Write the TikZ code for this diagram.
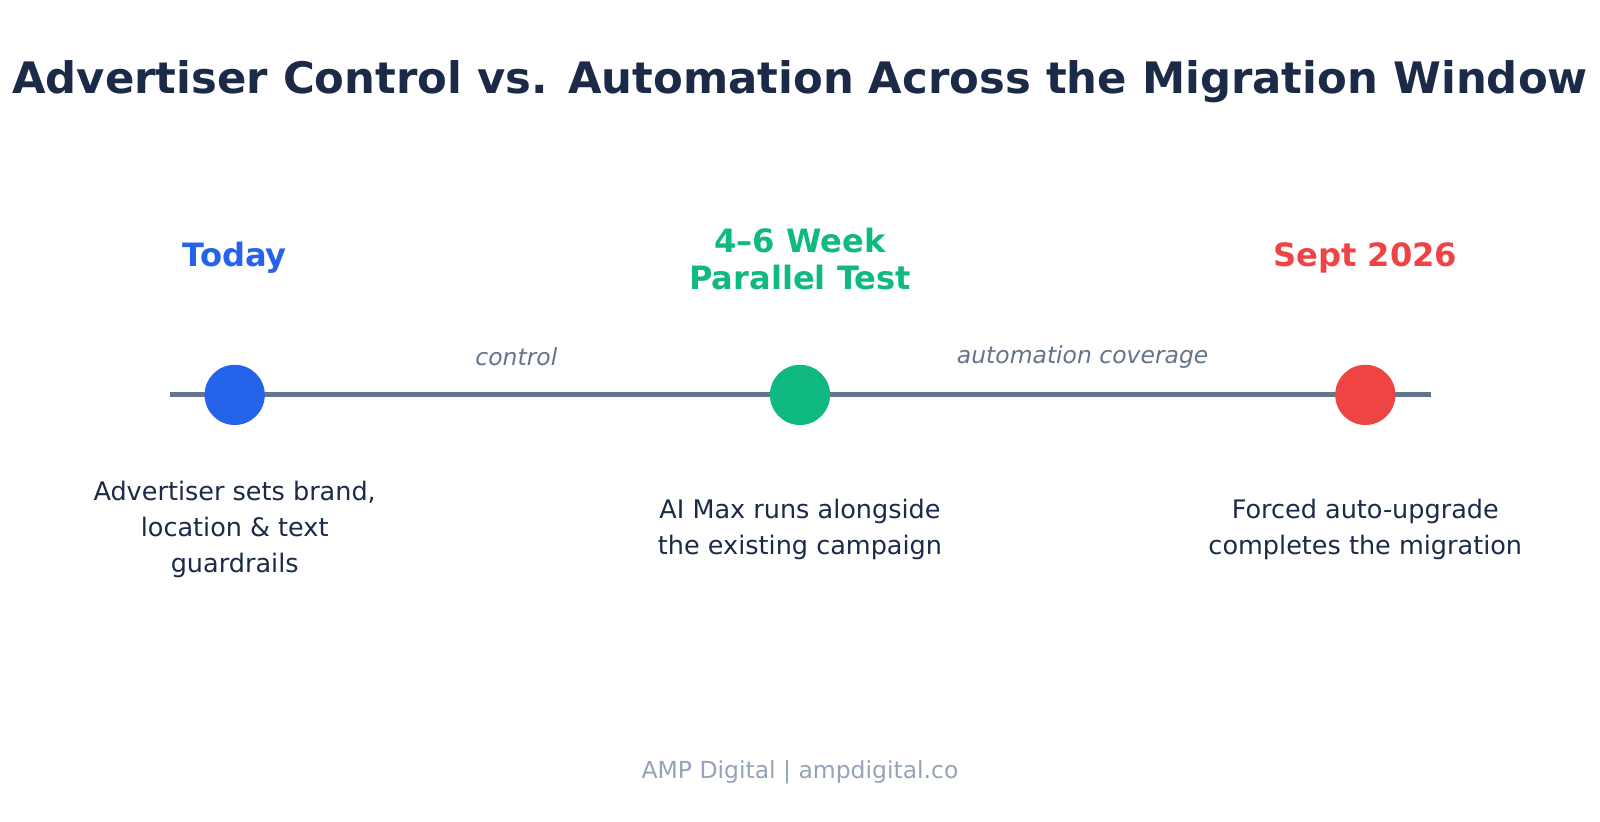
\documentclass[tikz,border=0pt]{standalone}
\usepackage{fontspec}
\setmainfont{DejaVu Sans}
\definecolor{navy}{HTML}{1B2A47}
\definecolor{slate}{HTML}{64748B}
\definecolor{pale}{HTML}{94A3B8}
\definecolor{mblue}{HTML}{2563EB}
\definecolor{mgreen}{HTML}{10B981}
\definecolor{mred}{HTML}{EF4444}
\tikzset{
  dot/.style={circle,minimum size=59bp,inner sep=0pt,fill=#1},
  stage/.style={font=\fontsize{31.5bp}{36bp}\selectfont\bfseries,align=center,text=#1},
  desc/.style={font=\fontsize{25bp}{35bp}\selectfont,align=center,text=navy},
  span/.style={font=\fontsize{23bp}{26bp}\selectfont\itshape,text=slate},
}
\begin{document}
\begin{tikzpicture}[x=1bp,y=1bp,yscale=-1]
\useasboundingbox (0,0) rectangle (1568,805);

% title
\node[font=\fontsize{42.5bp}{48bp}\selectfont\bfseries,text=navy] (title) at (784,80) {Advertiser Control vs. Automation Across the Migration Window};

% timeline
\coordinate (start) at (167,387);
\coordinate (end) at (1402,387);
\draw[slate,line width=5bp] (start) -- (end);

\node[dot=mblue] (today) at (230,387) {};
\node[dot=mgreen] (test) at (784,387) {};
\node[dot=mred] (sept) at (1338,387) {};

% stage labels
\node[stage=mblue] (todaylbl) at (230,253) {Today};
\node[stage=mgreen] (testlbl) at (784,254) {4–6 Week\\Parallel Test};
\node[stage=mred] (septlbl) at (1338,253) {Sept 2026};

% span labels
\node[span] (ctrl) at (506,350) {control};
\node[span] (auto) at (1061,350) {automation coverage};

% descriptions
\node[desc] (todaytxt) at (230,519) {Advertiser sets brand,\\location \& text\\guardrails};
\node[desc] (testtxt) at (784,519) {AI Max runs alongside\\the existing campaign};
\node[desc] (septtxt) at (1338,519) {Forced auto-upgrade\\completes the migration};

% footer
\node[font=\fontsize{23bp}{26bp}\selectfont,text=pale] (foot) at (784,757) {AMP Digital | ampdigital.co};
\end{tikzpicture}
\end{document}
